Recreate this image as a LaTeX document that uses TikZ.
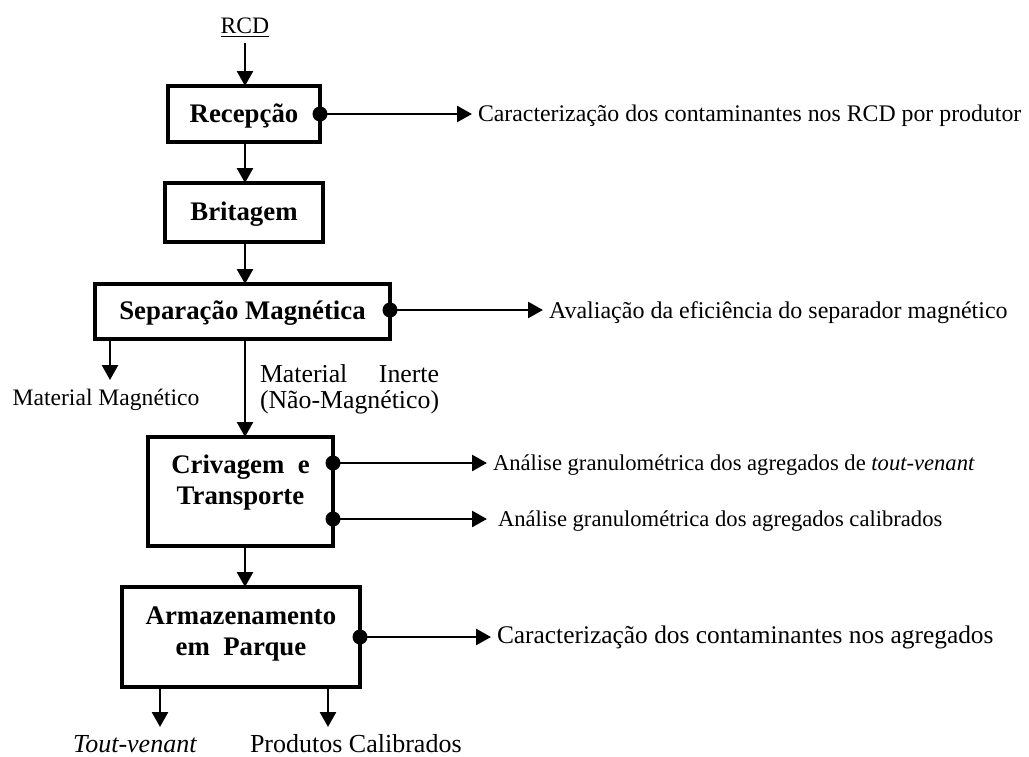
\documentclass[tikz,border=0pt]{standalone}
\usepackage{fontspec}
\setmainfont{Liberation Serif}
\usetikzlibrary{arrows.meta}
\newcommand{\fsz}[1]{\fontsize{#1}{13}\selectfont}
\begin{document}
\begin{tikzpicture}[x=0.5pt,y=-0.5pt,
  every node/.style={font=\fsz{11.8}, inner sep=0pt, outer sep=0pt},
  stage/.style={draw, line width=2pt},
  stagetext/.style={font=\fontsize{13.4}{15.8}\selectfont\bfseries, align=center},
  flow/.style={line width=1.3pt, -{Triangle[length=7.5pt,width=8pt]}},
  tap/.style={circle, fill, minimum size=7.5pt, inner sep=0pt},
  note/.style={anchor=base west, inner sep=3pt}]
\useasboundingbox (0,0) rectangle (1029,756);

% input
\node[anchor=base] (rcd) at (245,33) {\underline{RCD}};

% process stages
\node[stage, minimum width=76pt, minimum height=28pt,
      label={[stagetext, yshift=-1pt]center:Recepção}] (rec) at (244,114) {};
\node[stage, minimum width=79pt, minimum height=29.5pt,
      label={[stagetext, yshift=-1pt]center:Britagem}] (bri) at (244,212.5) {};
\node[stage, minimum width=147.5pt, minimum height=27.5pt,
      label={[stagetext, yshift=-1pt]center:Separação Magnética}] (sep) at (242.5,311.5) {};
\node[stage, minimum width=92.5pt, minimum height=54.5pt,
      label={[stagetext, yshift=4.5pt]center:Crivagem\ \ e\\Transporte}] (cri) at (240.5,491.5) {};
\node[stage, minimum width=119pt, minimum height=50pt,
      label={[stagetext, yshift=1.5pt]center:Armazenamento\\em\ \ Parque}] (arm) at (241,637) {};

% main flow
\draw[flow] ([yshift=-3pt]rcd.south) -- (rec.north -| rcd);
\draw[flow] (rec.south -| rcd) -- (bri.north -| rcd);
\draw[flow] (bri.south -| rcd) -- (sep.north -| rcd);
\draw[flow] (sep.south -| rcd) -- (cri.north -| rcd);
\draw[flow] (cri.south -| rcd) -- (arm.north -| rcd);

% outputs of the magnetic separation
\coordinate (mmtip) at (110,380);
\node[anchor=base] (mm) at (106,405) {Material Magnético};
\draw[flow] (sep.south -| mmtip) -- (mmtip);
\node[anchor=base west, font=\fsz{12.9}] (mi) at (260,382)
  {\begin{tabular}[t]{@{}l@{}}Material\hfill Inerte\\(Não-Magnético)\end{tabular}};

% final products
\coordinate (tvtip) at (160,727);
\coordinate (pctip) at (328,727);
\draw[flow] (arm.south -| tvtip) -- (tvtip);
\draw[flow] (arm.south -| pctip) -- (pctip);
\node[anchor=base east, font=\fsz{13}] (tv) at (197,752) {\textit{Tout-venant}};
\node[anchor=base west, font=\fsz{13}] (pc) at (250,752) {Produtos Calibrados};

% control points and assessments
\node[tap] (d1) at (rec.east) {};
\node[note, font=\fsz{11.9}] (t1) at (472,121) {Caracterização dos contaminantes nos RCD por produtor};
\draw[flow] (d1.center) -- (d1 -| t1.west);

\node[tap] (d2) at (390,310) {};
\node[note, font=\fsz{12}] (t2) at (543,318) {Avaliação da eficiência do separador magnético};
\draw[flow] (d2.center) -- (d2 -| t2.west);

\node[tap] (d3) at (333,463) {};
\node[note, font=\fsz{11.3}] (t3) at (487,470) {Análise granulométrica dos agregados de \textit{tout-venant}};
\draw[flow] (d3.center) -- (d3 -| t3.west);

\node[tap] (d4) at (333,519) {};
\node[note, font=\fsz{11.3}] (t4) at (492,526) {Análise granulométrica dos agregados calibrados};
\draw[flow, shorten >=2.5pt] (d4.center) -- (d4 -| t4.west);

\node[tap] (d5) at (arm.east) {};
\node[note, font=\fsz{12.7}] (t5) at (491,643) {Caracterização dos contaminantes nos agregados};
\draw[flow] (d5.center) -- (d5 -| t5.west);
\end{tikzpicture}
\end{document}
